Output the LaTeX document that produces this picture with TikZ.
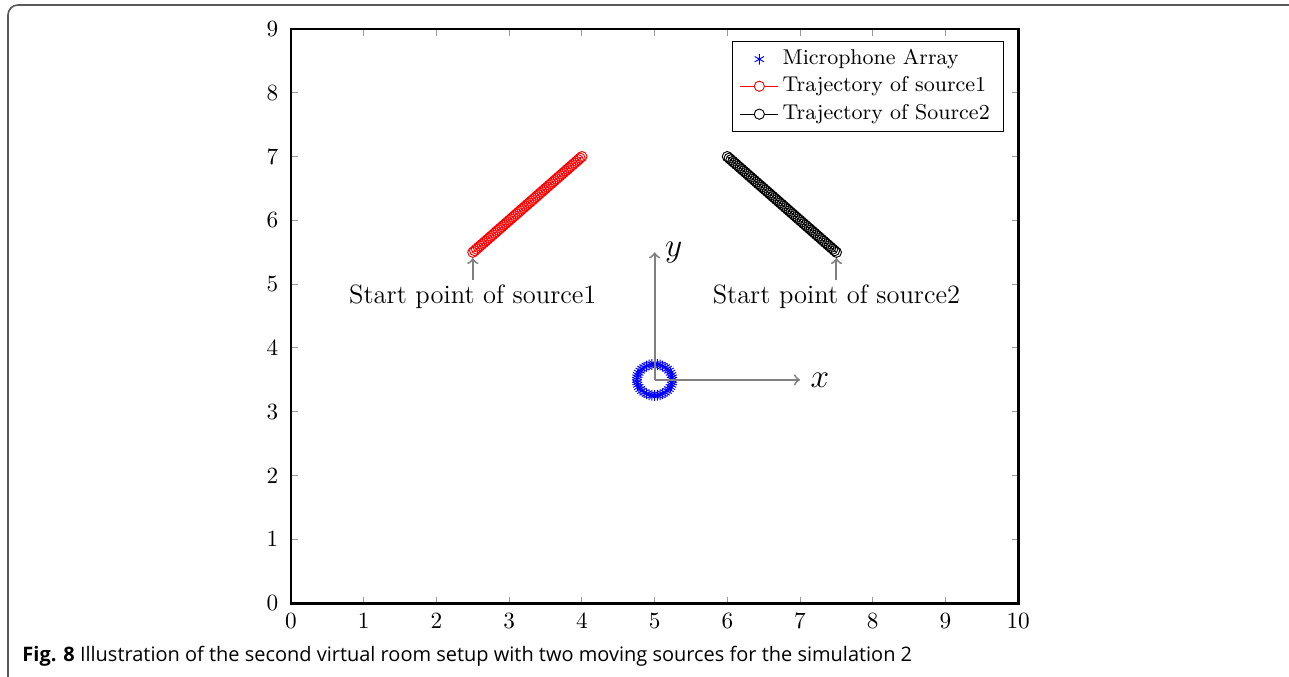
\documentclass[tikz,border=0pt]{standalone}
\usepackage{fontspec}
\newfontfamily\capfont{Open Sans}
\usetikzlibrary{plotmarks,calc}

\begin{document}
\begin{tikzpicture}

    \useasboundingbox (0,0) rectangle (19.5,10.228);

    % --------------------
    % Estilos
    % --------------------
    \tikzset{
        ticka/.style={gray!80, thin},
        ticklab/.style={font=\normalsize},
        guide/.style={gray, thick, ->},
        startlab/.style={font=\fontsize{11.4}{13}\selectfont, inner sep=2pt},
        axlab/.style={font=\fontsize{14}{16}\selectfont},
        leglab/.style={anchor=west, inner sep=0pt, font=\fontsize{9.2}{11}\selectfont},
        src1/.style={red, line width=0.4pt},
        src2/.style={black, line width=0.4pt},
        micmark/.style={blue, line width=0.4pt, mark size=2.3pt}
    }

    % --------------------
    % Moldura da figura
    % --------------------
    \draw[gray!70!black, line width=0.7pt, rounded corners=0.15cm]
        (0.121,-0.2) -- (0.121,10.152) -- (19.7,10.152);

    \begin{scope}[shift={(4.403,1.104)}, x=1.100cm, y=0.965cm]

    % --------------------
    % Eixos
    % --------------------
    \foreach \x in {1,...,9} {
        \draw[ticka] (\x,0) -- ++(0,2.8pt);
        \draw[ticka] (\x,9) -- ++(0,-2.8pt);
    }
    \foreach \y in {1,...,8} {
        \draw[ticka] (0,\y) -- ++(2.8pt,0);
        \draw[ticka] (10,\y) -- ++(-2.8pt,0);
    }
    \draw[line width=1.2pt] (0,0) rectangle (10,9);

    % Numeração dos eixos
    \foreach \x in {0,...,10}
        \node[ticklab, below=1pt] (xl\x) at (\x,0) {$\x$};
    \foreach \y in {0,...,9}
        \node[ticklab, left=2pt] (yl\y) at (0,\y) {$\y$};

    % --------------------
    % Trajetórias
    % --------------------
    \coordinate (s1start) at (2.5,5.5);
    \coordinate (s1end) at (4,7);
    \coordinate (s2start) at (7.5,5.5);
    \coordinate (s2end) at (6,7);

    \draw[src1] (s1start) -- (s1end);
    \foreach \i in {0,...,60}
        \draw[src1] ($(s1start)!\i/60!(s1end)$) circle (2.2pt);

    \draw[src2] (s2start) -- (s2end);
    \foreach \i in {0,...,60}
        \draw[src2] ($(s2start)!\i/60!(s2end)$) circle (2.2pt);

    % --------------------
    % Arranjo de microfones
    % --------------------
    \coordinate (mic) at (5,3.5);
    \draw[micmark] plot[only marks, mark=asterisk, domain=0:351, samples=40]
        ({5+0.245*cos(\x)},{3.5+0.245*sin(\x)});

    \coordinate (xend) at (7,3.5);
    \coordinate (yend) at (5,5.5);
    \draw[guide] (mic) -- (xend);
    \draw[guide] (mic) -- (yend);
    \node[axlab, right=1pt] (xlab) at (xend) {$x$};
    \node[axlab, right=1pt] (ylab) at (yend) {$y$};

    % --------------------
    % Pontos de partida
    % --------------------
    \coordinate (s1tip) at (2.5,5.41);
    \coordinate (s2tip) at (7.5,5.41);
    \node[startlab] (start1) at (2.5,4.80) {Start point of source1};
    \node[startlab] (start2) at (7.5,4.80) {Start point of source2};
    \draw[guide] (start1) -- (s1tip);
    \draw[guide] (start2) -- (s2tip);

    % --------------------
    % Legenda
    % --------------------
    \coordinate (legsw) at (6.066,7.398);
    \coordinate (legne) at (9.794,8.809);
    \draw[fill=white, line width=0.5pt] (legsw) rectangle (legne);

    \draw[micmark] plot[only marks, mark=asterisk] coordinates {(6.44,8.527)};
    \node[leglab] (leg1) at (6.755,8.527) {Microphone Array};

    \coordinate (l2a) at (6.18,8.103);
    \coordinate (l2b) at (6.70,8.103);
    \draw[src1] (l2a) -- (l2b);
    \draw[src1, fill=white] ($(l2a)!0.5!(l2b)$) circle (2.2pt);
    \node[leglab] (leg2) at (6.755,8.103) {Trajectory of source1};

    \coordinate (l3a) at (6.18,7.665);
    \coordinate (l3b) at (6.70,7.665);
    \draw[src2] (l3a) -- (l3b);
    \draw[src2, fill=white] ($(l3a)!0.5!(l3b)$) circle (2.2pt);
    \node[leglab] (leg3) at (6.755,7.665) {Trajectory of Source2};

    \end{scope}

    % --------------------
    % Legenda da figura
    % --------------------
    \node[anchor=base west, inner sep=0pt, font=\capfont\fontsize{8.6}{10}\selectfont] (caption)
        at (0.333,0.227) {\textbf{Fig. 8} Illustration of the second virtual room setup with two moving sources for the simulation 2};

\end{tikzpicture}
\end{document}
